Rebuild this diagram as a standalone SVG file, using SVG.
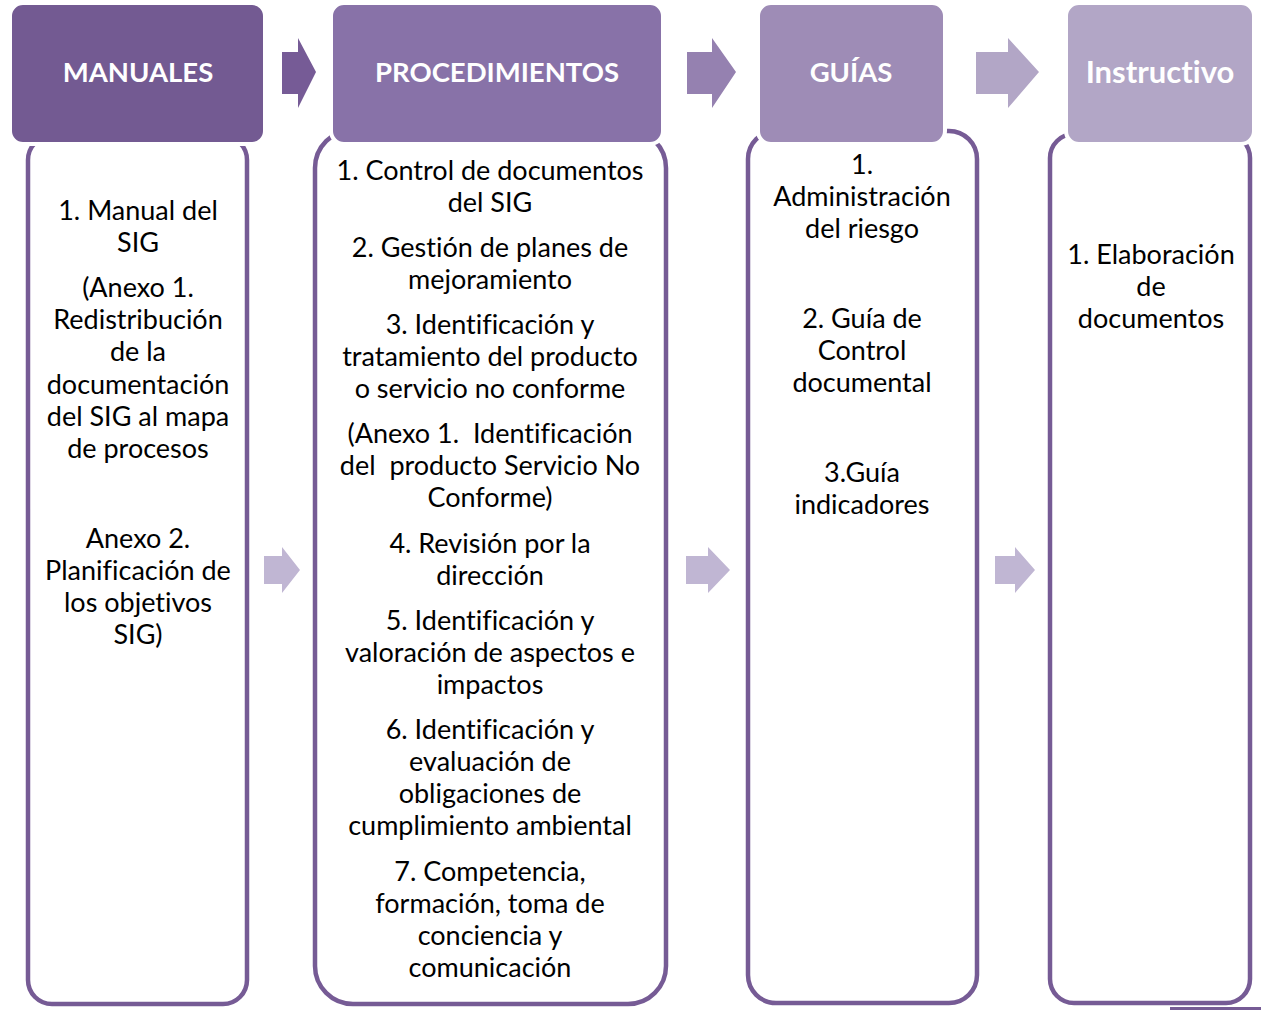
<svg xmlns="http://www.w3.org/2000/svg" width="1261" height="1010" viewBox="0 0 1261 1010">
<style>
.body{fill:#ffffff;stroke:#765b95;stroke-width:4.5}
.hdr{stroke:#ffffff;stroke-width:4}
.ht{font-family:Lato,"Open Sans","Liberation Sans",sans-serif;font-weight:bold;font-size:27.5px;fill:#ffffff;text-anchor:middle;font-variant-ligatures:none}
.t{font-family:Lato,"Open Sans","Liberation Sans",sans-serif;font-size:27px;fill:#000000;text-anchor:middle;font-variant-ligatures:none}
</style>
<rect width="1261" height="1010" fill="#ffffff"/>
<g id="manuales">
<rect class="body" x="28" y="136" width="219" height="868" rx="24"/>
<rect class="hdr" x="10" y="3" width="255" height="141" rx="13" fill="#735a92"/>
<text class="ht" x="138" y="82">MANUALES</text>
<text class="t" x="138" y="220">1. Manual del</text>
<text class="t" x="138" y="252">SIG</text>
<text class="t" x="138" y="297">(Anexo 1.</text>
<text class="t" x="138" y="329">Redistribución</text>
<text class="t" x="138" y="361">de la</text>
<text class="t" x="138" y="394">documentación</text>
<text class="t" x="138" y="426">del SIG al mapa</text>
<text class="t" x="138" y="458">de procesos</text>
<text class="t" x="138" y="548">Anexo 2.</text>
<text class="t" x="138" y="580">Planificación de</text>
<text class="t" x="138" y="612">los objetivos</text>
<text class="t" x="138" y="644">SIG)</text>
</g>
<g id="procedimientos">
<rect class="body" x="315" y="130" width="351" height="874" rx="38"/>
<rect class="hdr" x="331" y="3" width="332" height="141" rx="13" fill="#8872a8"/>
<text class="ht" x="497" y="82">PROCEDIMIENTOS</text>
<text class="t" x="490" y="180">1. Control de documentos</text>
<text class="t" x="490" y="212">del SIG</text>
<text class="t" x="490" y="257">2. Gestión de planes de</text>
<text class="t" x="490" y="289">mejoramiento</text>
<text class="t" x="490" y="334">3. Identificación y</text>
<text class="t" x="490" y="366">tratamiento del producto</text>
<text class="t" x="490" y="398">o servicio no conforme</text>
<text class="t" x="490" y="443" xml:space="preserve">(Anexo 1.  Identificación</text>
<text class="t" x="490" y="475" xml:space="preserve">del  producto Servicio No</text>
<text class="t" x="490" y="507">Conforme)</text>
<text class="t" x="490" y="553">4. Revisión por la</text>
<text class="t" x="490" y="585">dirección</text>
<text class="t" x="490" y="630">5. Identificación y</text>
<text class="t" x="490" y="662">valoración de aspectos e</text>
<text class="t" x="490" y="694">impactos</text>
<text class="t" x="490" y="739">6. Identificación y</text>
<text class="t" x="490" y="771">evaluación de</text>
<text class="t" x="490" y="803">obligaciones de</text>
<text class="t" x="490" y="835">cumplimiento ambiental</text>
<text class="t" x="490" y="881">7. Competencia,</text>
<text class="t" x="490" y="913">formación, toma de</text>
<text class="t" x="490" y="945">conciencia y</text>
<text class="t" x="490" y="977">comunicación</text>
</g>
<g id="guias">
<rect class="body" x="748" y="131" width="229" height="872" rx="28"/>
<rect class="hdr" x="758" y="3" width="187" height="141" rx="13" fill="#9e8cb6"/>
<text class="ht" x="851" y="82">GUÍAS</text>
<text class="t" x="862" y="174">1.</text>
<text class="t" x="862" y="206">Administración</text>
<text class="t" x="862" y="238">del riesgo</text>
<text class="t" x="862" y="328">2. Guía de</text>
<text class="t" x="862" y="360">Control</text>
<text class="t" x="862" y="392">documental</text>
<text class="t" x="862" y="482">3.Guía</text>
<text class="t" x="862" y="514">indicadores</text>
</g>
<g id="instructivo">
<rect class="body" x="1050" y="134" width="200" height="869" rx="24"/>
<rect class="hdr" x="1066" y="3" width="188" height="141" rx="13" fill="#b2a6c6"/>
<text class="ht" x="1160" y="83" style="font-size:31px">Instructivo</text>
<text class="t" x="1151" y="264">1. Elaboración</text>
<text class="t" x="1151" y="296">de</text>
<text class="t" x="1151" y="328">documentos</text>
</g>
<g id="connectors">
<polygon points="282,52 298,52 298,38 316,72 298,108 298,94 282,94" fill="#765b96"/>
<polygon points="687,52 712,52 712,38 736,72 712,108 712,94 687,94" fill="#9581b0"/>
<polygon points="976,52 1008,52 1008,38 1039,72 1008,108 1008,94 976,94" fill="#b2a6c6"/>
<polygon points="264,556 282,556 282,547 300,570 282,593 282,584 264,584" fill="#c0b6d3"/>
<polygon points="686,556 708,556 708,547 730,570 708,593 708,584 686,584" fill="#c0b6d3"/>
<polygon points="995,556 1015,556 1015,547 1035,570 1015,593 1015,584 995,584" fill="#c0b6d3"/>
</g>
<rect x="1170" y="1007" width="91" height="3" fill="#765b95"/>
</svg>
